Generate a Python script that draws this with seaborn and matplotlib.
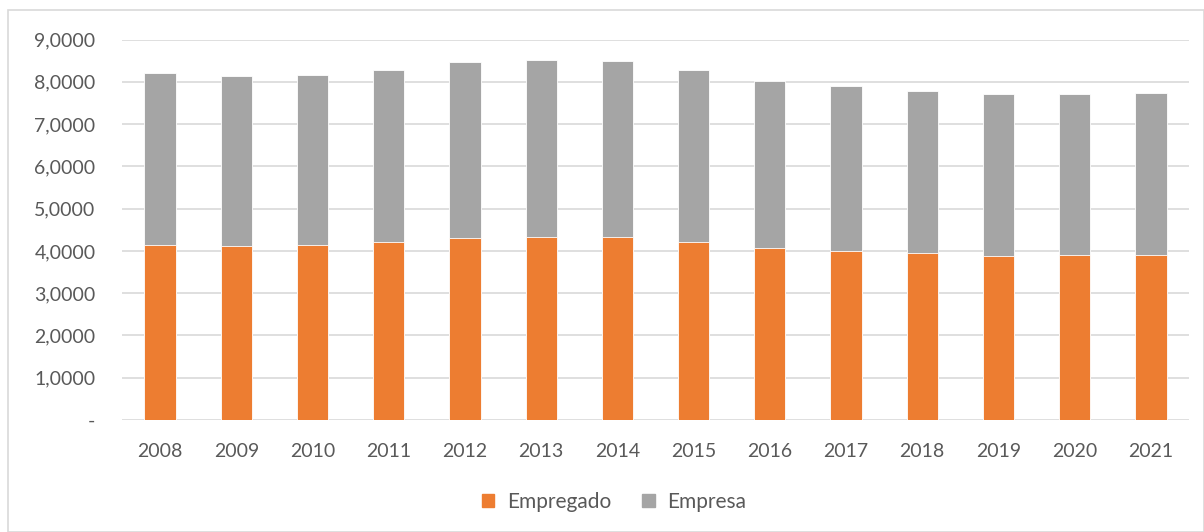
import pandas as pd
import matplotlib.pyplot as plt
import seaborn as sns
from matplotlib.patches import Patch, Rectangle
from matplotlib.ticker import FuncFormatter

years = ['2008', '2009', '2010', '2011', '2012', '2013', '2014',
         '2015', '2016', '2017', '2018', '2019', '2020', '2021']
empregado = [4.15, 4.11, 4.15, 4.20, 4.30, 4.33, 4.33,
             4.20, 4.06, 4.00, 3.94, 3.88, 3.91, 3.91]
empresa = [4.05, 4.03, 4.02, 4.09, 4.16, 4.19, 4.16,
           4.09, 3.96, 3.91, 3.85, 3.83, 3.80, 3.83]

ORANGE = '#ED7D31'
GRAY = '#A5A5A5'
TEXT = '#595959'

df = pd.DataFrame({'ano': years, 'Empregado': empregado, 'Empresa': empresa})
df['total'] = df['Empregado'] + df['Empresa']

sns.set_style('white')
plt.rcParams['font.family'] = ['Lato', 'DejaVu Sans']

fig = plt.figure(figsize=(12.04, 5.32), dpi=100)
ax = fig.add_axes([122 / 1204, 1 - 420 / 532, 1067 / 1204, 380.5 / 532])

# stacked bars: total in gray, employee share in orange on top of it
sns.barplot(data=df, x='ano', y='total', color=GRAY, width=0.41,
            saturation=1, edgecolor='white', linewidth=0.6, ax=ax)
sns.barplot(data=df, x='ano', y='Empregado', color=ORANGE, width=0.41,
            saturation=1, edgecolor='white', linewidth=0.6, ax=ax)

ax.set_ylim(0, 9)
ax.set_xlim(-0.5, len(years) - 0.5)
ax.set_yticks(range(0, 10))
ax.yaxis.set_major_formatter(FuncFormatter(
    lambda v, p: '-' if v == 0 else f'{v:.4f}'.replace('.', ',')))
ax.grid(axis='y', color='#D9D9D9', linewidth=1.2)
ax.set_axisbelow(True)
for s in ax.spines.values():
    s.set_visible(False)
ax.tick_params(axis='both', length=0, labelsize=14, colors=TEXT)
ax.tick_params(axis='x', pad=16.5)
ax.tick_params(axis='y', pad=19)
ax.set_xlabel('')
ax.set_ylabel('')

handles = [Patch(color=ORANGE, label='Empregado'), Patch(color=GRAY, label='Empresa')]
fig.legend(handles=handles, loc='center', bbox_to_anchor=(0.51, 0.056), ncol=2,
           frameon=False, fontsize=15, labelcolor=TEXT, handlelength=0.6,
           handleheight=0.6, handletextpad=0.6, columnspacing=1.5)

# chart area border
fig.patches.append(Rectangle((8 / 1204, 0), 1 - 8 / 1204, 1 - 10 / 532,
                             transform=fig.transFigure, fill=False,
                             edgecolor='#D9D9D9', linewidth=1.2))

plt.savefig('out.png', dpi=100)
